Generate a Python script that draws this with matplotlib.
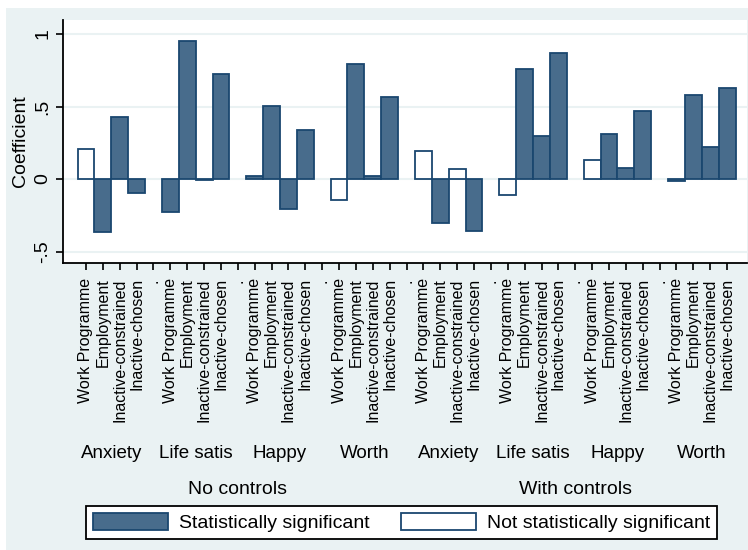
import matplotlib
matplotlib.use('Agg')
import matplotlib.pyplot as plt
from matplotlib.patches import Patch, Rectangle
from matplotlib.transforms import blended_transform_factory

plt.rcParams['font.family'] = ['Liberation Sans', 'DejaVu Sans']

# ---- data ----
outcomes = ['Anxiety', 'Life satis', 'Happy', 'Worth']
specs = ['No controls', 'With controls']
statuses = ['Work Programme', 'Employment', 'Inactive-constrained', 'Inactive-chosen']

coef_no_controls = [
    [0.207, -0.363, 0.425, -0.099],   # Anxiety
    [-0.230, 0.954, -0.005, 0.724],   # Life satis
    [0.022, 0.503, -0.209, 0.338],    # Happy
    [-0.145, 0.793, 0.022, 0.568],    # Worth
]
coef_with_controls = [
    [0.195, -0.301, 0.067, -0.356],
    [-0.110, 0.759, 0.297, 0.871],
    [0.129, 0.308, 0.078, 0.471],
    [-0.014, 0.579, 0.221, 0.625],
]
sig_no_controls = [
    [0, 1, 1, 1],
    [1, 1, 0, 1],
    [1, 1, 1, 1],
    [0, 1, 1, 1],
]
sig_with_controls = [
    [0, 1, 0, 1],
    [0, 1, 1, 1],
    [0, 1, 1, 1],
    [1, 1, 1, 1],
]
yticks = [-0.5, 0, 0.5, 1]
ytick_labels = ['-.5', '0', '.5', '1']
legend_labels = ['Statistically significant', 'Not statistically significant']

# ---- style ----
W, H = 748, 550
BG = '#EAF2F3'
NAVY = '#1A476F'
FILL = '#486C8C'

fig = plt.figure(figsize=(W / 100, H / 100), dpi=100)
fig.patch.set_facecolor('white')
fig.patches.append(Rectangle((6 / W, 0), 1, 1 - 7.5 / H, transform=fig.transFigure,
                             facecolor=BG, edgecolor='none', zorder=-10))

ax = fig.add_axes([63 / W, 1 - 263 / H, (747 - 63) / W, (263 - 20) / H])
ax.set_facecolor('white')

slots_per_group = len(statuses) + 1
xs, vals, colors = [], [], []
tick_pos, tick_lab = [], []
group_centers = []
spec_centers = []
for s, (coefs, sigs) in enumerate([(coef_no_controls, sig_no_controls),
                                    (coef_with_controls, sig_with_controls)]):
    first = None
    for o in range(len(outcomes)):
        g = s * len(outcomes) + o
        base = g * slots_per_group
        if first is None:
            first = base
        for k in range(len(statuses)):
            xs.append(base + k)
            vals.append(coefs[o][k])
            colors.append(FILL if sigs[o][k] else 'white')
            tick_pos.append(base + k)
            tick_lab.append(statuses[k])
        group_centers.append(base + (len(statuses) - 1) / 2)
        last = base + len(statuses) - 1
        if g < len(specs) * len(outcomes) - 1:
            tick_pos.append(base + len(statuses))
            tick_lab.append('.')
    spec_centers.append((first + last) / 2)

ax.bar(xs, vals, width=1.0, color=colors, edgecolor=NAVY, linewidth=1.3, zorder=3)

ax.set_xlim(-1.363, 39.18)
ax.set_ylim(-0.579, 1.0966)

ax.set_yticks(yticks)
ax.set_yticklabels(ytick_labels, rotation=90, va='center', fontsize=14)
ax.set_xticks(tick_pos)
ax.set_xticklabels(tick_lab, rotation=90, va='top', ha='center', fontsize=11.5)
ax.tick_params(axis='y', length=5, width=1.2, pad=3.5)
ax.tick_params(axis='x', length=5, width=1.2, pad=6)

ax.grid(axis='y', color=BG, linewidth=1.5, zorder=0)
ax.set_axisbelow(True)
for side in ['top', 'right']:
    ax.spines[side].set_visible(False)
for side in ['left', 'bottom']:
    ax.spines[side].set_linewidth(1.3)
    ax.spines[side].set_color('black')

ax.set_ylabel('Coefficient', fontsize=14, labelpad=4)

trans = blended_transform_factory(ax.transData, fig.transFigure)
for i, c in enumerate(group_centers):
    ax.text(c, 1 - 454 / H, outcomes[i % len(outcomes)], transform=trans,
            ha='center', va='center', fontsize=13.5)
for i, c in enumerate(spec_centers):
    ax.text(c, 1 - 490 / H, specs[i], transform=trans,
            ha='center', va='center', fontsize=14)

handles = [Patch(facecolor=FILL, edgecolor=NAVY, linewidth=1.3),
           Patch(facecolor='white', edgecolor=NAVY, linewidth=1.3)]
leg = fig.legend(handles, legend_labels, loc='upper left',
                 bbox_to_anchor=(86 / W, 1 - 506 / H), ncol=2, frameon=True,
                 fancybox=False, edgecolor='black', facecolor='white', framealpha=1,
                 borderpad=0.36, handlelength=3.86, handleheight=0.93,
                 handletextpad=0.57, columnspacing=1.6, fontsize=14, borderaxespad=0)
leg.get_frame().set_linewidth(1.3)

fig.savefig('out.png', dpi=100)
